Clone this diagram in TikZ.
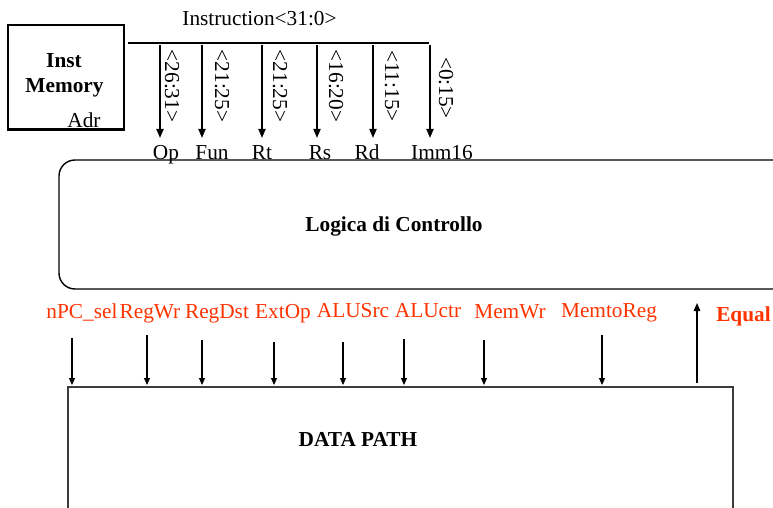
\documentclass[tikz,border=0pt]{standalone}
\usepackage{fontspec}
\setmainfont{Liberation Serif}
\usetikzlibrary{arrows.meta}
\definecolor{sigred}{RGB}{255,51,0}
\definecolor{edge}{RGB}{60,60,60}
\begin{document}
\begin{tikzpicture}[x=1pt,y=-1pt,
  txt/.style={font=\fontsize{21.3}{25}\selectfont, inner sep=0pt, anchor=base},
  btxt/.style={font=\fontsize{21.3}{25}\selectfont\bfseries, inner sep=0pt, anchor=base},
  sig/.style={txt, text=sigred},
  field/.style={font=\fontsize{21.3}{25}\selectfont, inner sep=0pt, rotate=-90},
  bus/.style={line width=2.6pt},
  tap/.style={line width=1.8pt, -{Triangle[length=9pt,width=7pt]}},
  ctl/.style={line width=1.1pt, -{Triangle[length=7pt,width=6pt]}},
  blk/.style={draw, line width=2pt, inner sep=0pt}]
\useasboundingbox (0,0) rectangle (773,508);
\clip (0,0) rectangle (773,508);

% instruction memory
\node[blk, minimum width=116pt, minimum height=104pt] (imem) at (66,77.5) {};
\node[btxt] (inst) at (64,68) {Inst};
\node[btxt] (mem) at (64.5,92.5) {Memory};
\node[txt] (adr) at (84,127.5) {Adr};

% instruction bus and its fields
\coordinate (busL) at (128,43);
\coordinate (busR) at (429,43);
\draw[bus] (busL) -- (busR);
\node[txt] (instr) at (259.5,26) {Instruction<31:0>};

\foreach \n/\x/\lx/\ly/\f/\lab/\bx in {
    op/160/172/86/{<26:31>}/Op/166,
    fun/202/222/86/{<21:25>}/Fun/212,
    rt/262/280/86/{<21:25>}/Rt/262,
    rs/317/336/86/{<16:20>}/Rs/320,
    rd/373/392/86/{<11:15>}/Rd/367,
    imm/430/446/88/{<0:15>}/Imm16/442} {
  \coordinate (\n top) at (\x,45);
  \coordinate (\n tip) at (\x,138);
  \draw[tap] (\n top) -- (\n tip);
  \node[field] (\n bits) at (\lx,\ly) {\f};
  \node[txt] (\n) at (\bx,159) {\lab};
}

% control logic
\draw[line width=1.4pt, rounded corners=16pt] (59,160) rectangle (789,289);
\node[btxt, anchor=center] (ctrl) at (394,226) {Logica di Controllo};

% data path
\node[draw=edge, line width=1.8pt, anchor=north west, minimum width=665pt,
      minimum height=160pt, inner sep=0pt] (dp) at (67,386) {};
\node[btxt] (dptxt) at (358,446) {DATA PATH};

% control signals into the data path
\foreach \n/\lx/\ly/\lab/\ax/\ay in {
    npc/82/318/{nPC\_sel}/72/338,
    regwr/150/318/RegWr/147/335,
    regdst/217/318/RegDst/202/340,
    extop/283/318/ExtOp/274/342,
    alusrc/353/317/ALUSrc/343/342,
    aluctr/428/317/ALUctr/404/339,
    memwr/510/318/MemWr/484/340,
    memtoreg/609/317/MemtoReg/602/335} {
  \node[sig] (\n) at (\lx,\ly) {\lab};
  \coordinate (\n from) at (\ax,\ay);
  \coordinate (\n to) at (\ax,385);
  \draw[ctl] (\n from) -- (\n to);
}

% condition flag back to the control logic
\node[btxt, text=sigred] (equal) at (743.5,321) {Equal};
\coordinate (eqfrom) at (697,383);
\coordinate (eqto) at (697,303);
\draw[line width=1.3pt, -{Triangle[length=8pt,width=6.5pt]}] (eqfrom) -- (eqto);
\end{tikzpicture}
\end{document}
